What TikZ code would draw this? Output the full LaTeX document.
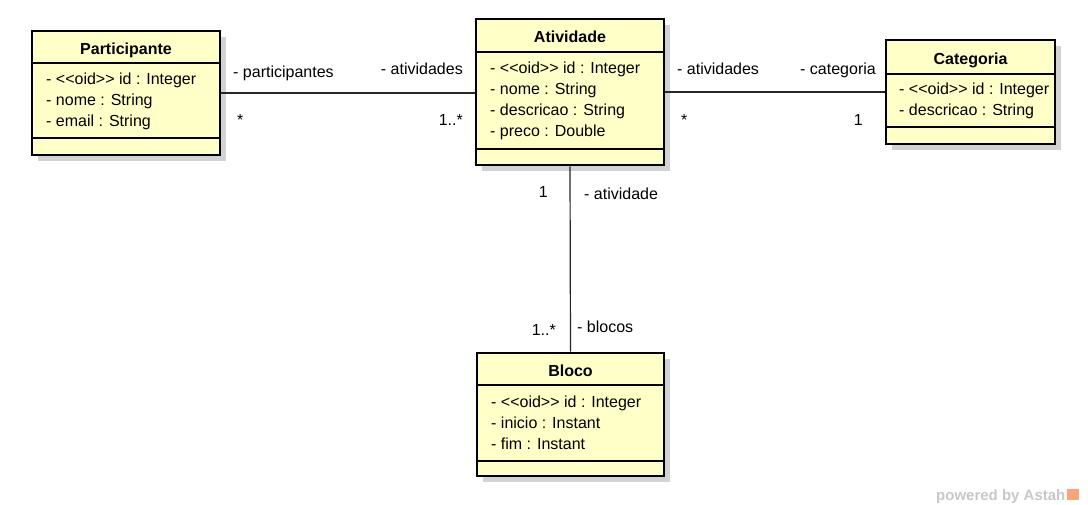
\documentclass[tikz,border=0pt]{standalone}
\usepackage{fontspec}
\setmainfont{Liberation Sans}
\usetikzlibrary{shadows}
\definecolor{classfill}{RGB}{255,255,200}
\definecolor{shadowgray}{RGB}{210,210,210}
\definecolor{wmgray}{RGB}{200,200,200}
\definecolor{wmorange}{RGB}{250,165,120}
\newcommand{\oidtag}{<{}<oid>{}>}
\tikzset{
  classbox/.style={draw=black, line width=2.8pt, fill=classfill, inner sep=0pt,
    drop shadow={shadow xshift=6pt, shadow yshift=-6pt, fill=shadowgray, opacity=1}},
  sepline/.style={line width=1.3pt},
  titletext/.style={font=\fontsize{16}{19}\selectfont\bfseries, inner sep=0pt, anchor=center,
    text height=11.5pt, text depth=0pt},
  attr/.style={font=\fontsize{16}{19}\selectfont, inner sep=0pt, anchor=west,
    text height=11.5pt, text depth=3.5pt},
  lbl/.style={font=\fontsize{16}{19}\selectfont, inner sep=0pt},
  assoc/.style={line width=1.2pt, draw=black!85}
}
\begin{document}
\begin{tikzpicture}[x=1pt,y=-1pt]
\fill[white] (0,0) rectangle (1088,505);
\useasboundingbox (0,0) rectangle (1088,505);

% ---------- Participante ----------
\node[classbox, minimum width=188pt, minimum height=124pt] (part) at (126,93) {};
\draw[sepline] (part.west |- 0,63) -- (part.east |- 0,63);
\draw[sepline] (part.west |- 0,138) -- (part.east |- 0,138);
\node[titletext] (partT) at (126,48.5) {Participante};
\node[attr] (partA1) at (46,81) {- \oidtag{} id : Integer};
\node[attr] (partA2) at (46,102) {- nome : String};
\node[attr] (partA3) at (46,123) {- email : String};

% ---------- Atividade ----------
\node[classbox, minimum width=188pt, minimum height=146pt] (ativ) at (570,92) {};
\draw[sepline] (ativ.west |- 0,52) -- (ativ.east |- 0,52);
\draw[sepline] (ativ.west |- 0,149) -- (ativ.east |- 0,149);
\node[titletext] (ativT) at (570,37) {Atividade};
\node[attr] (ativA1) at (490,70) {- \oidtag{} id : Integer};
\node[attr] (ativA2) at (490,91) {- nome : String};
\node[attr] (ativA3) at (490,112) {- descricao : String};
\node[attr] (ativA4) at (490,133) {- preco : Double};

% ---------- Categoria ----------
\node[classbox, minimum width=169pt, minimum height=104pt] (cat) at (970.5,92) {};
\draw[sepline] (cat.west |- 0,74) -- (cat.east |- 0,74);
\draw[sepline] (cat.west |- 0,127) -- (cat.east |- 0,127);
\node[titletext] (catT) at (970.5,59) {Categoria};
\node[attr] (catA1) at (899,91) {- \oidtag{} id : Integer};
\node[attr] (catA2) at (899,112) {- descricao : String};

% ---------- Bloco ----------
\node[classbox, minimum width=187pt, minimum height=123pt] (bloco) at (570.5,414.5) {};
\draw[sepline] (bloco.west |- 0,385) -- (bloco.east |- 0,385);
\draw[sepline] (bloco.west |- 0,461) -- (bloco.east |- 0,461);
\node[titletext] (blocoT) at (570.5,370.5) {Bloco};
\node[attr] (blocoA1) at (491,403) {- \oidtag{} id : Integer};
\node[attr] (blocoA2) at (491,424) {- inicio : Instant};
\node[attr] (blocoA3) at (491,445) {- fim : Instant};

% ---------- associations ----------
\draw[assoc] (part.east) -- (part.east -| ativ.west);
\draw[assoc] (ativ.east |- cat.west) -- (cat.west);
\draw[assoc] (ativ.south) -- (bloco.north);

% ---------- role names and multiplicities ----------
\node[lbl, anchor=base west] (r1) at (233,78) {- participantes};
\node[lbl, anchor=base west] (m1) at (237,126) {*};
\node[lbl, anchor=base east] (r2) at (463,75) {- atividades};
\node[lbl, anchor=base east] (m2) at (463,126) {1..*};
\node[lbl, anchor=base west] (r3) at (677,75) {- atividades};
\node[lbl, anchor=base west] (m3) at (681,126) {*};
\node[lbl, anchor=base east] (r4) at (876,75) {- categoria};
\node[lbl, anchor=base east] (m4) at (863,126) {1};
\node[lbl, anchor=base east] (m5) at (548,198) {1};
\node[lbl, anchor=base west] (r5) at (584,200) {- atividade};
\node[lbl, anchor=base east] (m6) at (556,335) {1..*};
\node[lbl, anchor=base west] (r6) at (577,333) {- blocos};

% ---------- watermark ----------
\node[font=\fontsize{15}{18}\selectfont\bfseries, text=wmgray, inner sep=0pt, anchor=base west] (wm) at (936,500) {powered by Astah};
\fill[wmorange] (wm.base east) ++(1,-11) rectangle ++(12,11);
\end{tikzpicture}
\end{document}
